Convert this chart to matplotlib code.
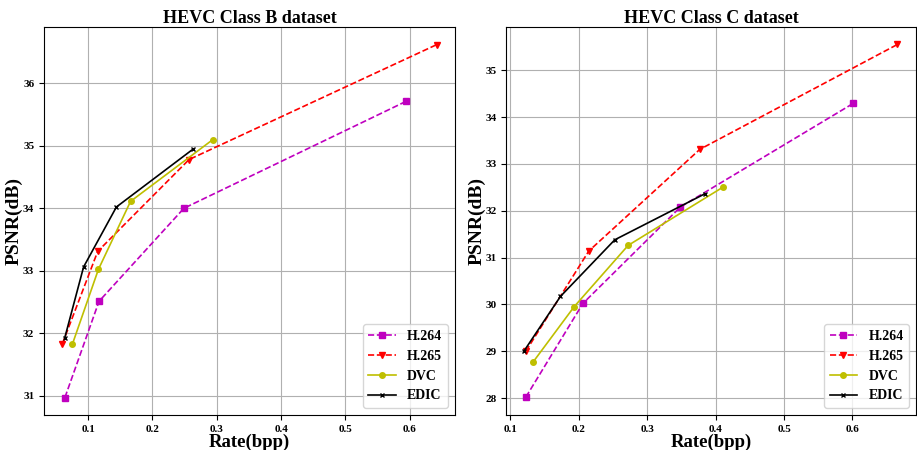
import matplotlib
matplotlib.use("Agg")
import matplotlib.pyplot as plt

plt.rcParams['font.family'] = ['Liberation Serif', 'DejaVu Serif']
plt.rcParams['font.weight'] = 'bold'

# Class B
b_h264_x = [0.064, 0.117, 0.249, 0.594]
b_h264_y = [30.97, 32.51, 34.00, 35.71]
b_h265_x = [0.060, 0.115, 0.257, 0.642]
b_h265_y = [31.83, 33.31, 34.78, 36.62]
b_dvc_x = [0.0755, 0.116, 0.166, 0.294]
b_dvc_y = [31.82, 33.02, 34.11, 35.10]
b_edic_x = [0.0636, 0.093, 0.144, 0.2636]
b_edic_y = [31.92, 33.06, 34.02, 34.95]

# Class C
c_h264_x = [0.1224, 0.2058, 0.3485, 0.601]
c_h264_y = [28.02, 30.02, 32.08, 34.29]
c_h265_x = [0.1224, 0.2145, 0.3768, 0.6658]
c_h265_y = [29.00, 31.14, 33.31, 35.55]
c_dvc_x = [0.133, 0.193, 0.272, 0.4114]
c_dvc_y = [28.77, 29.95, 31.26, 32.51]
c_edic_x = [0.120, 0.173, 0.2525, 0.384]
c_edic_y = [29.01, 30.17, 31.38, 32.36]

titles = ["HEVC Class B dataset", "HEVC Class C dataset"]
labels = ["H.264", "H.265", "DVC", "EDIC"]
b_ticks_y = [31, 32, 33, 34, 35, 36]
c_ticks_y = [28, 29, 30, 31, 32, 33, 34, 35]
ticks_x = [0.1, 0.2, 0.3, 0.4, 0.5, 0.6]

fig = plt.figure(figsize=(9.17, 4.5), dpi=100)
ax1 = fig.add_axes([0.048, 0.0778, 0.448, 0.862])
ax2 = fig.add_axes([0.552, 0.0778, 0.447, 0.862])

styles = [dict(color='m', ls='--', marker='s', ms=4),
          dict(color='red', ls='--', marker='v', ms=4.5),
          dict(color='y', ls='-', marker='o', ms=4),
          dict(color='black', ls='-', marker='x', ms=3.5)]

sets = [
    (ax1, [(b_h264_x, b_h264_y), (b_h265_x, b_h265_y), (b_dvc_x, b_dvc_y), (b_edic_x, b_edic_y)],
     titles[0], b_ticks_y, (0.0315, 0.670), (30.69, 36.9)),
    (ax2, [(c_h264_x, c_h264_y), (c_h265_x, c_h265_y), (c_dvc_x, c_dvc_y), (c_edic_x, c_edic_y)],
     titles[1], c_ticks_y, (0.0937, 0.693), (27.64, 35.92)),
]

for ax, series, title, yt, xl, yl in sets:
    for (x, y), lab, st in zip(series, labels, styles):
        ax.plot(x, y, label=lab, lw=1.2, **st)
    ax.set_title(title, fontsize=13, fontweight='bold', pad=3)
    ax.set_xlabel("Rate(bpp)", fontsize=13.5, fontweight='bold', labelpad=0)
    ax.set_ylabel("PSNR(dB)", fontsize=14, fontweight='bold', labelpad=0)
    ax.set_xticks(ticks_x)
    ax.set_yticks(yt)
    ax.set_xlim(*xl)
    ax.set_ylim(*yl)
    ax.tick_params(labelsize=8)
    for t in ax.get_xticklabels() + ax.get_yticklabels():
        t.set_fontweight('bold')
    ax.grid(True, color='#b0b0b0', lw=0.8)
    ax.legend(loc='lower right', prop={'weight': 'bold', 'size': 10})

fig.savefig("out.png", dpi=100)
